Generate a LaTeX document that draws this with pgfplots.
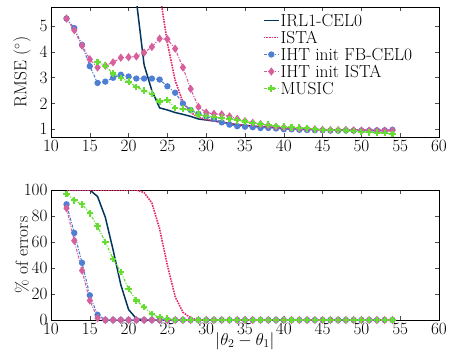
\documentclass[border=0pt]{standalone}
\usepackage{pgfplots}
\pgfplotsset{compat=1.18}
\definecolor{cnavy}{HTML}{01355E}
\definecolor{cista}{HTML}{E6286E}
\definecolor{cfb}{HTML}{4F7FD2}
\definecolor{cihtista}{HTML}{D6609C}
\definecolor{cmusic}{HTML}{66DD33}
\pgfplotsset{
  myax/.style={
    scale only axis, width=388bp, height=130bp,
    xmin=10, xmax=60, xtick={10,15,...,60},
    tick label style={font=\fontsize{17.5}{17.5}\selectfont},
    label style={font=\fontsize{17.5}{17.5}\selectfont},
    ylabel style={at={(axis description cs:-0.075,0.5)}, anchor=center},
    major tick length=4bp,
    every tick/.style={black!70, line width=0.6pt},
    axis line style={line width=0.8pt},
    tick align=inside,
  },
  pIRL/.style={color=cnavy, line width=1.5pt, no marks},
  pISTA/.style={color=cista, line width=1.6pt, densely dotted, no marks},
  pFB/.style={color=cfb, line width=1.1pt, dash pattern=on 3pt off 1.5pt on 1pt off 1.5pt, mark=*, mark size=2.6pt, mark options={solid, fill=cfb, draw=cfb}},
  pIHT/.style={color=cihtista, line width=1.1pt, dash pattern=on 3pt off 1.5pt on 1pt off 1.5pt, mark=diamond*, mark size=3.3pt, mark options={solid, fill=cihtista, draw=cihtista}},
  pMU/.style={color=cmusic, line width=1.1pt, dash pattern=on 3pt off 1.5pt on 1pt off 1.5pt, mark=+, mark size=3.3pt, mark options={solid, line width=2.2pt}},
}
\begin{document}
\begin{tikzpicture}
\begin{axis}[myax, name=top,
  ymin=0.7, ymax=5.75, ytick={1,2,3,4,5},
  ylabel={RMSE ($^\circ$)},
  legend style={at={(axis description cs:0.546,0.955)}, anchor=north west, draw=none, fill=none,
    font=\fontsize{17.5}{17.5}\selectfont, row sep=2bp, inner sep=0pt,
    nodes={inner sep=1pt, text height=12bp, text depth=1bp}},
  legend image code/.code={
    \draw[mark repeat=2,mark phase=2] plot coordinates {(0bp,0bp) (7.5bp,0bp) (15bp,0bp)};},
  legend cell align=left,
]
\addplot[pIRL] coordinates {(19,20)(20,12)(21,6.0)(22,3.5)(23,2.5)(24,1.83)(25,1.75)(26,1.65)(27,1.58)(28,1.5)(29,1.4)(30,1.36)(31,1.32)(32,1.28)(33,1.22)(34,1.18)(35,1.15)(36,1.12)(37,1.1)(38,1.08)(39,1.06)(40,1.04)(41,1.02)(42,1.01)(43,1.0)(44,0.99)(45,0.98)(46,0.97)(47,0.97)(48,0.96)(49,0.96)(50,0.96)(51,0.95)(52,0.95)(53,0.95)(54,0.95)};
\addlegendentry{IRL1-CEL0}
\addplot[pISTA] coordinates {(22,12)(23,9)(24,6.3)(25,4.35)(26,2.9)(27,2.05)(28,1.65)(29,1.47)(30,1.38)(31,1.32)(32,1.28)(33,1.23)(34,1.18)(35,1.15)(36,1.12)(37,1.1)(38,1.08)(39,1.06)(40,1.04)(41,1.02)(42,1.01)(43,1.0)(44,0.99)(45,0.98)(46,0.98)(47,0.97)(48,0.97)(49,0.97)(50,0.97)(51,0.97)(52,0.97)(53,0.97)(54,0.97)};
\addlegendentry{ISTA}
\addplot[pFB] coordinates {(12,5.3)(13,4.93)(14,4.28)(15,3.45)(16,2.8)(17,2.85)(18,3.0)(19,3.12)(20,3.05)(21,2.97)(22,2.97)(23,2.97)(24,2.93)(25,2.67)(26,2.42)(27,2.0)(28,1.75)(29,1.6)(30,1.5)(31,1.4)(32,1.27)(33,1.18)(34,1.12)(35,1.1)(36,1.08)(37,1.05)(38,1.05)(39,1.03)(40,1.0)(41,1.0)(42,0.98)(43,0.97)(44,0.96)(45,0.96)(46,0.95)(47,0.95)(48,0.96)(49,0.95)(50,0.95)(51,0.95)(52,0.96)(53,0.96)(54,0.98)};
\addlegendentry{IHT init FB-CEL0}
\addplot[pIHT] coordinates {(12,5.3)(13,4.85)(14,4.25)(15,3.72)(16,3.4)(17,3.47)(18,3.6)(19,3.78)(20,3.8)(21,3.83)(22,3.98)(23,4.2)(24,4.52)(25,4.5)(26,4.13)(27,3.4)(28,2.57)(29,1.87)(30,1.65)(31,1.6)(32,1.58)(33,1.5)(34,1.4)(35,1.32)(36,1.25)(37,1.2)(38,1.15)(39,1.1)(40,1.07)(41,1.05)(42,1.03)(43,1.02)(44,1.0)(45,0.98)(46,0.97)(47,0.97)(48,0.98)(49,0.96)(50,0.95)(51,0.95)(52,0.94)(53,0.95)(54,0.95)};
\addlegendentry{IHT init ISTA}
\addplot[pMU] coordinates {(16,3.62)(17,3.47)(18,3.17)(19,3.0)(20,2.85)(21,2.64)(22,2.5)(23,2.38)(24,2.08)(25,2.13)(26,1.82)(27,1.8)(28,1.75)(29,1.57)(30,1.52)(31,1.47)(32,1.45)(33,1.4)(34,1.35)(35,1.3)(36,1.25)(37,1.2)(38,1.18)(39,1.13)(40,1.1)(41,1.08)(42,1.06)(43,1.04)(44,1.0)(45,0.98)(46,0.97)(47,0.96)(48,0.95)(49,0.93)(50,0.9)(51,0.88)(52,0.87)(53,0.86)(54,0.82)};
\addlegendentry{MUSIC}
\end{axis}
\begin{axis}[myax, at={(0,-183bp)},
  ymin=0, ymax=100, ytick={0,20,...,100},
  ylabel={\% of errors},
  xlabel={$|\theta_2-\theta_1|$},
  xlabel style={at={(axis description cs:0.5,-0.16)}, anchor=center},
]
\addplot[pIRL] coordinates {(12,100)(13,100)(14,100)(15,100)(16,95)(17,79)(18,54)(19,27)(20,8)(21,1)(22,0)(54,0)};
\addplot[pISTA] coordinates {(12,100)(13,100)(14,100)(15,100)(16,100)(17,100)(18,100)(19,100)(20,100)(21,100)(22,98)(23,90)(24,70)(25,42)(26,18)(27,6)(28,1.5)(29,0)(54,0)};
\addplot[pFB] coordinates {(12,89)(13,67)(14,44)(15,19)(16,4)(17,0)(18,0)(19,0)(20,0)(21,0)(22,0)(23,0)(24,0)(25,0)(26,0)(27,0)(28,0)(29,0)(30,0)(31,0)(32,0)(33,0)(34,0)(35,0)(36,0)(37,0)(38,0)(39,0)(40,0)(41,0)(42,0)(43,0)(44,0)(45,0)(46,0)(47,0)(48,0)(49,0)(50,0)(51,0)(52,0)(53,0)(54,0)};
\addplot[pIHT] coordinates {(12,86)(13,61)(14,38)(15,15)(16,1.5)(17,0)(18,0)(19,0)(20,0)(21,0)(22,0)(23,0)(24,0)(25,0)(26,0)(27,0)(28,0)(29,0)(30,0)(31,0)(32,0)(33,0)(34,0)(35,0)(36,0)(37,0)(38,0)(39,0)(40,0)(41,0)(42,0)(43,0)(44,0)(45,0)(46,0)(47,0)(48,0)(49,0)(50,0)(51,0)(52,0)(53,0)(54,0)};
\addplot[pMU] coordinates {(12,97)(13,92)(14,89)(15,82)(16,72)(17,60)(18,47)(19,37)(20,24)(21,15)(22,10)(23,4.5)(24,2)(25,1)(26,0)(27,0)(28,0)(29,0)(30,0)(31,0)(32,0)(33,0)(34,0)(35,0)(36,0)(37,0)(38,0)(39,0)(40,0)(41,0)(42,0)(43,0)(44,0)(45,0)(46,0)(47,0)(48,0)(49,0)(50,0)(51,0)(52,0)(53,0)(54,0)};
\end{axis}
\path (-51bp,-221bp) rectangle (403bp,137bp);
\end{tikzpicture}
\end{document}
